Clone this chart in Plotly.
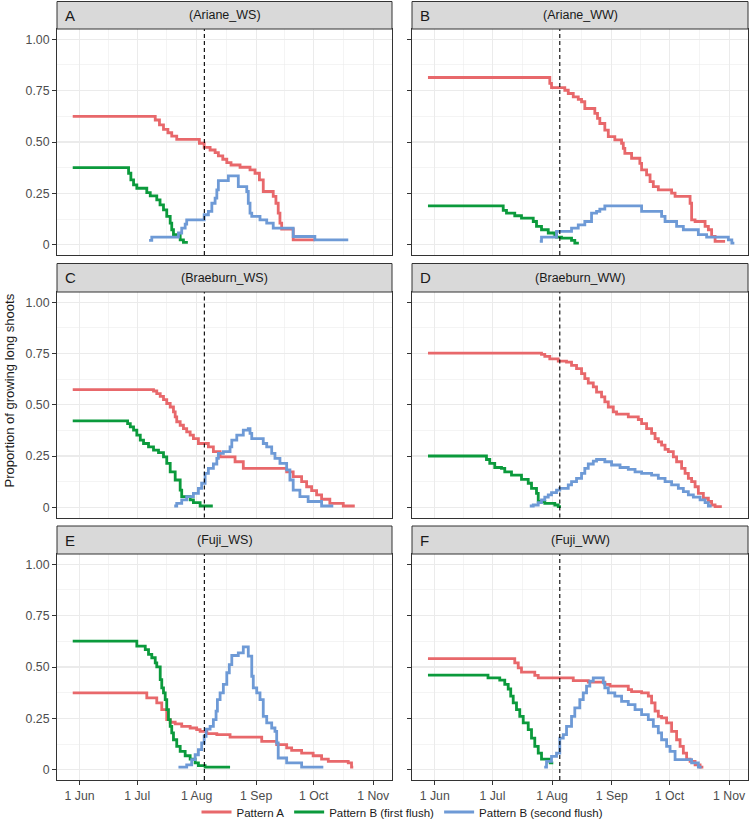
import pandas as pd
import plotly.graph_objects as go

# ---------------- data (x = days after 1 June, y = proportion) ----------------
BASE_DATE = "2013-06-01"
cutoff_day = 65  # dashed vertical line (~5 Aug)

panel_letters = ["A", "B", "C", "D", "E", "F"]
panel_titles = ["(Ariane_WS)", "(Ariane_WW)", "(Braeburn_WS)", "(Braeburn_WW)", "(Fuji_WS)", "(Fuji_WW)"]
series_names = ["Pattern A", "Pattern B (first flush)", "Pattern B (second flush)"]
series_colors = ["#E8686B", "#0B9A3C", "#6E9AD6"]

# Panel A  (Ariane_WS)
a_red_day = [-3.6, 39.4, 41.6, 43.7, 46.0, 48.0, 50.6, 62.4, 64.9, 68.0, 70.6, 72.3, 74.6, 76.7, 78.9, 83.6, 88.8, 91.4, 93.7, 95.7, 100.9, 102.3, 103.5, 104.4, 105.3, 111.3, 122.6]
a_red_val = [0.625, 0.607, 0.583, 0.561, 0.545, 0.529, 0.513, 0.494, 0.474, 0.461, 0.448, 0.432, 0.416, 0.400, 0.388, 0.377, 0.364, 0.348, 0.316, 0.259, 0.235, 0.202, 0.154, 0.105, 0.076, 0.024, 0.024]
a_green_day = [-3.6, 25.5, 26.7, 28.1, 29.8, 35.0, 36.8, 40.2, 41.9, 43.7, 45.4, 47.2, 48.0, 48.9, 52.4, 54.1, 56.4]
a_green_val = [0.375, 0.348, 0.316, 0.291, 0.275, 0.254, 0.238, 0.218, 0.194, 0.170, 0.138, 0.105, 0.073, 0.049, 0.024, 0.011, 0.011]
a_blue_day = [36.2, 37.6, 51.5, 53.2, 55.0, 55.8, 64.9, 67.1, 68.9, 70.6, 71.5, 72.3, 77.5, 82.7, 87.1, 87.9, 88.8, 89.7, 94.0, 97.5, 100.9, 111.3, 122.6, 140.0]
a_blue_val = [0.021, 0.037, 0.057, 0.081, 0.100, 0.121, 0.146, 0.162, 0.202, 0.227, 0.267, 0.312, 0.335, 0.283, 0.259, 0.202, 0.154, 0.138, 0.121, 0.105, 0.081, 0.040, 0.024, 0.024]

# Panel B  (Ariane_WW)
b_red_day = [-3.5, 59.8, 60.7, 67.6, 69.4, 72.0, 74.6, 76.3, 78.0, 83.2, 84.6, 85.8, 88.4, 90.2, 93.6, 97.1, 98.0, 98.8, 102.3, 106.6, 107.5, 110.1, 111.9, 113.6, 116.2, 123.1, 124.9, 132.7, 133.5, 135.3, 140.5, 142.2, 143.9, 145.7, 150.9]
b_red_val = [0.814, 0.785, 0.765, 0.752, 0.736, 0.720, 0.707, 0.696, 0.663, 0.639, 0.615, 0.590, 0.558, 0.526, 0.510, 0.494, 0.469, 0.445, 0.421, 0.396, 0.364, 0.340, 0.307, 0.283, 0.267, 0.251, 0.235, 0.202, 0.121, 0.113, 0.089, 0.073, 0.040, 0.016, 0.016]
b_green_day = [-3.5, 35.6, 37.3, 41.6, 45.1, 51.2, 52.9, 55.5, 59.0, 62.4, 63.3, 65.9, 71.1, 72.8, 74.9]
b_green_val = [0.189, 0.167, 0.154, 0.141, 0.129, 0.113, 0.089, 0.073, 0.057, 0.049, 0.037, 0.032, 0.021, 0.008, 0.008]
b_blue_day = [54.6, 55.5, 63.3, 71.1, 74.6, 78.0, 81.5, 84.1, 85.8, 88.4, 107.5, 117.9, 119.7, 125.7, 129.2, 137.0, 141.3, 152.6, 154.4, 155.7]
b_blue_val = [0.016, 0.037, 0.065, 0.081, 0.097, 0.113, 0.154, 0.162, 0.173, 0.189, 0.162, 0.138, 0.113, 0.089, 0.073, 0.049, 0.037, 0.024, 0.008, 0.008]

# Panel C  (Braeburn_WS)
c_red_day = [-3.6, 38.5, 40.2, 42.0, 43.7, 45.4, 47.2, 48.9, 49.8, 50.6, 52.4, 54.1, 55.8, 57.6, 59.3, 61.9, 67.1, 69.7, 73.2, 81.0, 85.3, 107.9, 111.3, 115.7, 118.3, 120.9, 123.5, 126.1, 130.4, 137.4, 143.4]
c_red_val = [0.574, 0.567, 0.554, 0.541, 0.525, 0.506, 0.489, 0.465, 0.441, 0.417, 0.400, 0.384, 0.368, 0.352, 0.335, 0.311, 0.295, 0.271, 0.246, 0.222, 0.190, 0.173, 0.149, 0.125, 0.100, 0.081, 0.060, 0.039, 0.019, 0.006, 0.006]
c_green_day = [-3.6, 25.0, 26.4, 28.1, 29.8, 31.6, 33.3, 35.9, 38.5, 41.1, 43.7, 45.4, 47.2, 49.8, 52.4, 53.2, 57.6, 59.3, 62.8, 69.4]
c_green_val = [0.421, 0.408, 0.392, 0.376, 0.352, 0.327, 0.311, 0.295, 0.279, 0.266, 0.246, 0.214, 0.173, 0.133, 0.084, 0.052, 0.036, 0.023, 0.006, 0.006]
c_blue_day = [49.3, 50.6, 53.2, 55.8, 59.3, 61.9, 63.6, 65.4, 67.1, 69.7, 71.5, 72.3, 74.9, 78.4, 79.3, 81.9, 85.3, 87.9, 88.8, 89.7, 95.7, 97.5, 100.1, 101.8, 104.4, 107.9, 109.6, 111.3, 114.8, 119.1, 126.1, 132.2]
c_blue_val = [0.006, 0.019, 0.036, 0.052, 0.068, 0.092, 0.117, 0.165, 0.190, 0.211, 0.238, 0.263, 0.271, 0.295, 0.327, 0.352, 0.376, 0.384, 0.360, 0.335, 0.311, 0.295, 0.263, 0.238, 0.214, 0.182, 0.133, 0.084, 0.052, 0.028, 0.006, 0.006]

# Panel D  (Braeburn_WW)
d_red_day = [-3.5, 55.5, 57.2, 59.8, 64.2, 68.5, 71.1, 73.7, 76.3, 78.0, 79.8, 82.4, 84.1, 86.7, 88.4, 90.2, 92.8, 94.5, 100.6, 105.8, 107.5, 110.1, 112.7, 114.5, 116.2, 117.9, 119.7, 121.4, 124.0, 125.7, 128.3, 130.1, 131.8, 133.5, 135.3, 137.0, 139.6, 142.2, 143.9, 145.7, 149.2]
d_red_val = [0.752, 0.746, 0.736, 0.724, 0.713, 0.708, 0.692, 0.676, 0.652, 0.627, 0.606, 0.587, 0.562, 0.538, 0.514, 0.489, 0.465, 0.454, 0.441, 0.428, 0.408, 0.384, 0.360, 0.335, 0.319, 0.303, 0.282, 0.271, 0.246, 0.222, 0.190, 0.165, 0.141, 0.125, 0.100, 0.068, 0.044, 0.028, 0.011, 0.003, 0.003]
d_green_day = [-3.5, 26.9, 28.6, 31.2, 34.7, 36.4, 39.9, 45.1, 48.6, 50.3, 52.9, 53.8, 57.2, 62.4, 64.2, 65.6]
d_green_val = [0.250, 0.233, 0.214, 0.194, 0.190, 0.173, 0.157, 0.136, 0.117, 0.092, 0.068, 0.028, 0.019, 0.011, 0.003, 0.003]
d_blue_day = [49.4, 51.2, 53.8, 55.5, 57.2, 59.0, 60.7, 63.3, 65.0, 69.4, 71.1, 73.7, 76.3, 78.0, 79.8, 82.4, 84.1, 88.4, 91.9, 96.3, 100.6, 104.1, 107.5, 112.7, 116.2, 119.7, 123.1, 126.6, 129.2, 131.8, 134.4, 137.9, 140.5, 142.2, 143.9]
d_blue_val = [0.006, 0.011, 0.023, 0.036, 0.049, 0.060, 0.071, 0.084, 0.092, 0.109, 0.125, 0.141, 0.165, 0.190, 0.211, 0.225, 0.233, 0.222, 0.206, 0.194, 0.185, 0.173, 0.165, 0.157, 0.141, 0.125, 0.109, 0.092, 0.076, 0.060, 0.049, 0.036, 0.023, 0.006, 0.006]

# Panel E  (Fuji_WS)
e_red_day = [-3.6, 35.0, 40.2, 42.8, 45.4, 47.2, 49.8, 53.2, 57.6, 61.0, 62.8, 66.3, 71.5, 78.4, 94.9, 102.7, 107.9, 110.5, 115.7, 121.7, 126.1, 129.6, 140.0, 141.7, 142.6]
e_red_val = [0.374, 0.350, 0.325, 0.293, 0.244, 0.231, 0.223, 0.211, 0.203, 0.195, 0.187, 0.176, 0.171, 0.159, 0.138, 0.122, 0.106, 0.094, 0.081, 0.068, 0.052, 0.041, 0.033, 0.013, 0.013]
e_green_day = [-3.6, 29.8, 34.2, 35.9, 37.6, 39.4, 40.2, 42.0, 42.8, 43.7, 44.6, 45.4, 46.3, 47.2, 48.0, 48.9, 50.6, 52.4, 55.0, 57.6, 60.2, 61.9, 65.4, 78.4]
e_green_val = [0.626, 0.602, 0.585, 0.561, 0.545, 0.520, 0.501, 0.439, 0.398, 0.374, 0.341, 0.293, 0.244, 0.211, 0.179, 0.146, 0.114, 0.089, 0.068, 0.052, 0.033, 0.020, 0.013, 0.013]
e_blue_day = [51.5, 55.8, 58.4, 60.2, 61.9, 63.6, 64.9, 65.9, 68.0, 69.7, 71.1, 71.8, 73.2, 74.9, 76.7, 78.0, 79.3, 82.7, 85.3, 87.9, 89.7, 90.5, 92.3, 94.0, 95.7, 97.5, 100.1, 101.8, 102.7, 103.5, 107.9, 115.7, 127.0]
e_blue_val = [0.013, 0.024, 0.049, 0.073, 0.098, 0.130, 0.163, 0.198, 0.211, 0.244, 0.285, 0.341, 0.374, 0.415, 0.472, 0.512, 0.556, 0.569, 0.598, 0.553, 0.455, 0.398, 0.374, 0.341, 0.260, 0.228, 0.203, 0.187, 0.130, 0.057, 0.033, 0.013, 0.013]

# Panel F  (Fuji_WW)
f_red_day = [-3.5, 41.6, 43.4, 45.1, 52.0, 53.8, 72.0, 79.8, 88.4, 91.1, 100.6, 102.3, 107.5, 111.0, 112.7, 114.5, 116.2, 117.9, 120.5, 123.1, 125.7, 127.5, 129.2, 130.9, 132.7, 135.3, 137.9, 139.6]
f_red_val = [0.541, 0.520, 0.496, 0.475, 0.459, 0.447, 0.434, 0.426, 0.415, 0.407, 0.390, 0.380, 0.374, 0.358, 0.325, 0.285, 0.260, 0.252, 0.228, 0.187, 0.146, 0.114, 0.081, 0.052, 0.041, 0.024, 0.013, 0.013]
f_green_day = [-3.5, 27.7, 33.8, 36.4, 38.2, 39.5, 40.8, 42.5, 44.2, 46.0, 48.6, 50.3, 52.0, 53.8, 55.5, 60.0, 61.6]
f_green_val = [0.460, 0.447, 0.436, 0.415, 0.393, 0.358, 0.325, 0.293, 0.260, 0.228, 0.195, 0.154, 0.114, 0.081, 0.052, 0.033, 0.033]
f_blue_day = [56.9, 58.1, 60.7, 63.3, 65.0, 66.8, 68.5, 71.1, 72.8, 75.4, 77.2, 78.9, 80.6, 82.4, 87.6, 88.4, 90.2, 93.6, 97.1, 100.6, 104.1, 107.5, 111.0, 113.6, 116.2, 117.9, 120.5, 122.3, 124.9, 133.5, 137.0, 138.7]
f_blue_val = [0.013, 0.041, 0.065, 0.081, 0.154, 0.171, 0.211, 0.260, 0.301, 0.341, 0.374, 0.407, 0.431, 0.447, 0.423, 0.398, 0.374, 0.358, 0.333, 0.317, 0.293, 0.268, 0.244, 0.211, 0.179, 0.146, 0.114, 0.089, 0.049, 0.033, 0.013, 0.013]

x_tick_dates = ["2013-06-01", "2013-07-01", "2013-08-01", "2013-09-01", "2013-10-01", "2013-11-01"]
x_tick_text = ["1 Jun", "1 Jul", "1 Aug", "1 Sep", "1 Oct", "1 Nov"]
y_tick_vals = [0, 0.25, 0.5, 0.75, 1.0]
y_tick_text = ["0", "0.25", "0.50", "0.75", "1.00"]
x_range_days = [-11.8, 162.8]
y_range = [-0.05, 1.05]

panels = [
    [(a_red_day, a_red_val), (a_green_day, a_green_val), (a_blue_day, a_blue_val)],
    [(b_red_day, b_red_val), (b_green_day, b_green_val), (b_blue_day, b_blue_val)],
    [(c_red_day, c_red_val), (c_green_day, c_green_val), (c_blue_day, c_blue_val)],
    [(d_red_day, d_red_val), (d_green_day, d_green_val), (d_blue_day, d_blue_val)],
    [(e_red_day, e_red_val), (e_green_day, e_green_val), (e_blue_day, e_blue_val)],
    [(f_red_day, f_red_val), (f_green_day, f_green_val), (f_blue_day, f_blue_val)],
]

# ---------------- helpers ----------------
base = pd.Timestamp(BASE_DATE)


def to_dates(days):
    return [base + pd.Timedelta(days=float(d)) for d in days]


W, H = 750, 831
FONT = "Liberation Sans, Arial, Helvetica, sans-serif"

# pixel layout
col_px = [(57, 392), (412, 748)]
row_px = [(29, 255), (292, 517.5), (554, 780)]
strip_px = [(1.5, 29), (263.5, 292), (526, 554)]

tick_dates = pd.to_datetime(x_tick_dates)
x_minor = [tick_dates[i] + (tick_dates[i + 1] - tick_dates[i]) / 2 for i in range(len(tick_dates) - 1)]
y_minor = [(y_tick_vals[i] + y_tick_vals[i + 1]) / 2 for i in range(len(y_tick_vals) - 1)]
x_range = to_dates(x_range_days)

fig = go.Figure()
layout = {}
shapes = []
annotations = []

for i, series in enumerate(panels):
    r, c = divmod(i, 2)
    sfx = "" if i == 0 else str(i + 1)
    xref, yref = "x" + sfx, "y" + sfx
    for k, (days, vals) in enumerate(series):
        fig.add_trace(go.Scatter(
            x=to_dates(days), y=vals, mode="lines", line_shape="hv",
            line=dict(color=series_colors[k], width=2.8),
            name=series_names[k], legendgroup=series_names[k],
            showlegend=(i == 0), xaxis=xref, yaxis=yref, hoverinfo="skip",
        ))
    bottom = (r == 2)
    layout["xaxis" + sfx] = dict(
        domain=[col_px[c][0] / W, col_px[c][1] / W], anchor=yref, type="date",
        range=x_range, tickmode="array", tickvals=list(tick_dates), ticktext=x_tick_text,
        showticklabels=bottom, ticks="outside" if bottom else "", ticklen=4, tickwidth=1,
        tickcolor="#333333", tickfont=dict(size=12.3, color="#4D4D4D", family=FONT),
        showgrid=True, gridcolor="#EBEBEB", gridwidth=1.1, zeroline=False,
        minor=dict(tickmode="array", tickvals=x_minor, showgrid=True, gridcolor="#EBEBEB",
                   gridwidth=0.55, ticks=""),
        showline=True, linecolor="#333333", linewidth=1, mirror=True,
    )
    layout["yaxis" + sfx] = dict(
        domain=[(H - row_px[r][1]) / H, (H - row_px[r][0]) / H], anchor=xref,
        range=y_range, tickmode="array", tickvals=y_tick_vals, ticktext=y_tick_text,
        showticklabels=(c == 0), ticks="outside", ticklen=4, tickwidth=1, tickcolor="#333333",
        tickfont=dict(size=12.3, color="#4D4D4D", family=FONT),
        showgrid=True, gridcolor="#EBEBEB", gridwidth=1.1, zeroline=False,
        minor=dict(tickmode="array", tickvals=y_minor, showgrid=True, gridcolor="#EBEBEB",
                   gridwidth=0.55, ticks=""),
        showline=True, linecolor="#333333", linewidth=1, mirror=True,
    )
    # dashed cut-off line
    shapes.append(dict(type="line", xref=xref, yref=yref + " domain",
                       x0=base + pd.Timedelta(days=cutoff_day), x1=base + pd.Timedelta(days=cutoff_day),
                       y0=0, y1=1, line=dict(color="black", width=1.1, dash="4px,3px"), layer="above"))
    # strip
    sy0, sy1 = strip_px[r]
    shapes.append(dict(type="rect", xref="paper", yref="paper",
                       x0=col_px[c][0] / W, x1=col_px[c][1] / W,
                       y0=(H - sy1) / H, y1=(H - sy0) / H,
                       fillcolor="#D9D9D9", line=dict(color="#333333", width=1), layer="above"))
    ymid = (H - (sy0 + sy1) / 2) / H
    annotations.append(dict(text=panel_letters[i], xref="paper", yref="paper",
                            x=(col_px[c][0] + 6) / W, y=ymid, xanchor="left", yanchor="middle",
                            showarrow=False, font=dict(size=15, color="#1A1A1A", family=FONT)))
    annotations.append(dict(text=panel_titles[i], xref="paper", yref="paper",
                            x=(col_px[c][0] + col_px[c][1]) / 2 / W, y=ymid,
                            xanchor="center", yanchor="middle", showarrow=False,
                            font=dict(size=12.5, color="#1A1A1A", family=FONT)))

annotations.append(dict(text="Proportion of growing long shoots", xref="paper", yref="paper",
                        x=8.5 / W, y=(H - 391) / H, xanchor="center", yanchor="middle",
                        textangle=-90, showarrow=False,
                        font=dict(size=13, color="#1A1A1A", family=FONT)))

legend_center_px = (col_px[0][0] + col_px[1][1]) / 2

fig.update_layout(
    width=W, height=H, margin=dict(l=0, r=0, t=0, b=0),
    paper_bgcolor="white", plot_bgcolor="white",
    font=dict(family=FONT, color="#1A1A1A"),
    shapes=shapes, annotations=annotations,
    legend=dict(orientation="h", x=legend_center_px / W, xanchor="center", y=(H - 812) / H,
                yanchor="middle", font=dict(size=11.5, color="#1A1A1A", family=FONT),
                bgcolor="rgba(0,0,0,0)", itemwidth=30, tracegroupgap=0),
    **layout,
)

fig.write_html("out.html",
               config={"displayModeBar": False, "staticPlot": True},
               post_script="document.body.style.margin='0';document.body.style.padding='0';"
                           "document.body.style.overflow='hidden';")
